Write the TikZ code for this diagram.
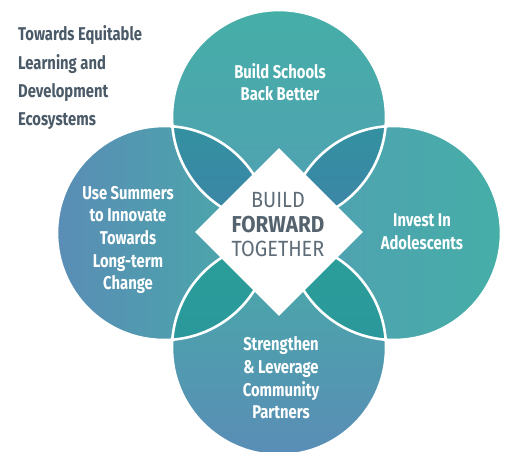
\documentclass[tikz,border=0pt]{standalone}
\usepackage{fontspec}
\setmainfont{Fira Sans}[FakeStretch=0.88]
\newfontfamily\condfont{Fira Sans}[FakeStretch=0.8]
\newfontfamily\hubfont{Fira Sans}[FakeStretch=0.9]
\usetikzlibrary{shapes.geometric}

\definecolor{tealA}{HTML}{45AEA7}
\definecolor{tealB}{HTML}{47ABA8}
\definecolor{blueA}{HTML}{5A8DB6}
\definecolor{blueB}{HTML}{529FB3}
\definecolor{lensTopA}{HTML}{3391A0}
\definecolor{lensTopB}{HTML}{3D84A8}
\definecolor{lensBotA}{HTML}{2A9E98}
\definecolor{lensBotB}{HTML}{2B989B}
\definecolor{slate}{HTML}{4B5A68}
\definecolor{hubgray}{HTML}{5E6C78}
\definecolor{hubdark}{HTML}{55636F}

\tikzset{
  circtext/.style={text=white, align=center, inner sep=0pt,
    font=\condfont\bfseries\fontsize{18.5}{22.6}\selectfont},
  titleline/.style={text=slate, anchor=base west, inner sep=0pt,
    font=\condfont\bfseries\fontsize{18.5}{20}\selectfont},
  rim/.style={draw=white, line width=2.6pt},
  hubbox/.style={diamond, aspect=1, fill=white, minimum size=168pt, inner sep=0pt},
  hubtext/.style={align=center, inner sep=0pt, text=hubgray,
    font=\hubfont\fontsize{22}{24.5}\selectfont}
}

\begin{document}
\begin{tikzpicture}[x=1pt,y=1pt]
  \useasboundingbox (0,0) rectangle (505,451);
  \def\R{107}
  % circle centres
  \coordinate (T) at (279,334);
  \coordinate (L) at (164,218);
  \coordinate (Rt) at (394,218);
  \coordinate (B) at (279,103);

  % the four circles
  \shade[top color=tealA, bottom color=blueB] (T) circle (\R);
  \shade[left color=blueA, right color=tealB] (L) circle (\R);
  \shade[left color=blueB, right color=tealA] (Rt) circle (\R);
  \shade[top color=tealB, bottom color=blueA] (B) circle (\R);

  % overlapping lenses
  \begin{scope}
    \clip (T) circle (\R); \clip (L) circle (\R);
    \shade[top color=lensTopA, bottom color=lensTopB] (170,224) rectangle (274,327);
  \end{scope}
  \begin{scope}
    \clip (T) circle (\R); \clip (Rt) circle (\R);
    \shade[top color=lensTopA, bottom color=lensTopB] (284,224) rectangle (388,327);
  \end{scope}
  \begin{scope}
    \clip (B) circle (\R); \clip (L) circle (\R);
    \shade[top color=lensBotA, bottom color=lensBotB] (170,109) rectangle (274,212);
  \end{scope}
  \begin{scope}
    \clip (B) circle (\R); \clip (Rt) circle (\R);
    \shade[top color=lensBotA, bottom color=lensBotB] (284,109) rectangle (388,212);
  \end{scope}

  % white rims
  \draw[rim] (T) circle (\R);
  \draw[rim] (L) circle (\R);
  \draw[rim] (Rt) circle (\R);
  \draw[rim] (B) circle (\R);

  % central diamond
  \node[hubbox] (hub) at (279,219) {};
  \node[hubtext] (hublabel) at (278,226)
    {BUILD\\{\bfseries\color{hubdark}\fontsize{23}{24.5}\selectfont FORWARD}\\TOGETHER};

  % circle labels
  \node[circtext] (top) at (280,369) {Build Schools\\Back Better};
  \node[circtext] (left) at (128,211) {Use Summers\\to Innovate\\Towards\\Long-term\\Change};
  \node[circtext] (right) at (422,219.5) {Invest In\\Adolescents};
  \node[circtext] (bottom) at (281,73) {Strengthen\\\& Leverage\\Community\\Partners};

  % heading
  \node[titleline] (h1) at (18,410.3) {Towards Equitable};
  \node[titleline] (h2) at (18,382) {Learning and};
  \node[titleline] (h3) at (18,354) {Development};
  \node[titleline] (h4) at (18,325.5) {Ecosystems};
\end{tikzpicture}
\end{document}
